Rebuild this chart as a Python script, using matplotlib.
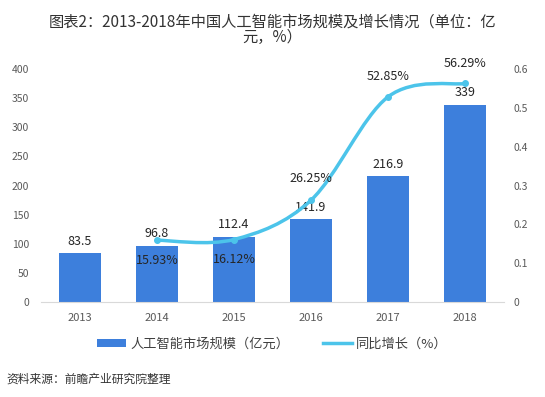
import matplotlib.pyplot as plt
import numpy as np
from matplotlib.path import Path
from matplotlib.patches import PathPatch
from matplotlib.lines import Line2D
from matplotlib.patches import Patch

plt.rcParams["font.family"] = ["Noto Sans CJK SC", "DejaVu Sans"]

# data
years = ["2013", "2014", "2015", "2016", "2017", "2018"]
market_size = [83.5, 96.8, 112.4, 141.9, 216.9, 339]
growth_years = ["2014", "2015", "2016", "2017", "2018"]
growth_rate = [0.1593, 0.1612, 0.2625, 0.5285, 0.5629]
growth_labels = ["15.93%", "16.12%", "26.25%", "52.85%", "56.29%"]

BAR_COLOR = "#3D7FDC"
LINE_COLOR = "#4CC4EA"
TICK_COLOR = "#595959"

fig = plt.figure(figsize=(5.45, 3.97), dpi=100)
ax = fig.add_axes([0.076, 0.239, 0.848, 0.587])
ax2 = ax.twinx()

x = np.arange(len(years))
ax.bar(x, market_size, width=0.545, color=BAR_COLOR, zorder=2)
for xi, v in zip(x, market_size):
    ax.text(xi, v + 9, f"{v:g}", ha="center", va="bottom", fontsize=9, color="#262626")

ax.set_xlim(-0.5, len(years) - 0.5)
ax.set_ylim(0, 400)
ax.set_yticks(range(0, 401, 50))
ax.set_xticks(x)
ax.set_xticklabels(years)
ax2.set_ylim(0, 0.6)
ax2.set_yticks([0, 0.1, 0.2, 0.3, 0.4, 0.5, 0.6])
ax2.set_yticklabels(["0", "0.1", "0.2", "0.3", "0.4", "0.5", "0.6"])

for a in (ax, ax2):
    for side in ("top", "left", "right", "bottom"):
        a.spines[side].set_visible(False)
    a.tick_params(length=0, labelsize=7.5, colors=TICK_COLOR)
ax.spines["bottom"].set_visible(True)
ax.spines["bottom"].set_color("#D9D9D9")
ax.tick_params(axis="x", pad=8, labelsize=8)
ax.tick_params(axis="y", pad=9)
ax2.tick_params(axis="y", pad=7)

# smooth growth line (bezier through the points)
gx = np.array([years.index(y) for y in growth_years], dtype=float)
gy = np.array(growth_rate)
pts = np.column_stack([gx, gy])
verts = [pts[0]]
codes = [Path.MOVETO]
t = 0.5 / 3
for i in range(len(pts) - 1):
    p0 = pts[i - 1] if i > 0 else pts[i]
    p1 = pts[i]
    p2 = pts[i + 1]
    p3 = pts[i + 2] if i + 2 < len(pts) else pts[i + 1]
    c1 = p1 + (p2 - p0) * t
    c2 = p2 - (p3 - p1) * t
    verts += [c1, c2, p2]
    codes += [Path.CURVE4] * 3
ax2.add_patch(PathPatch(Path(verts, codes), facecolor="none", edgecolor=LINE_COLOR,
                        linewidth=2.5, zorder=3))
ax2.plot(gx, gy, "o", color=LINE_COLOR, markersize=4, zorder=4)

offsets = [-0.035, -0.035, 0.04, 0.035, 0.035]
for xi, v, lab, off in zip(gx, gy, growth_labels, offsets):
    ax2.text(xi, v + off, lab, ha="center", va="top" if off < 0 else "bottom",
             fontsize=9, color="#262626", zorder=5)

fig.text(0.5, 0.945, "图表2：2013-2018年中国人工智能市场规模及增长情况（单位：亿", ha="center",
         va="center", fontsize=11, color="#333333")
fig.text(0.5, 0.905, "元，%）", ha="center", va="center", fontsize=11, color="#333333")

handles = [Patch(facecolor=BAR_COLOR), Line2D([], [], color=LINE_COLOR, linewidth=2.5)]
fig.legend(handles, ["人工智能市场规模（亿元）", "同比增长（%）"], loc="center",
           bbox_to_anchor=(0.5, 0.133), ncol=2, frameon=False, fontsize=9.5,
           handlelength=2.2, handleheight=0.6, handletextpad=0.3, columnspacing=2.6,
           labelcolor="#404040")

fig.text(0.012, 0.045, "资料来源：前瞻产业研究院整理", ha="left", va="center",
         fontsize=8.5, style="italic", color="#333333")

fig.savefig("out.png", dpi=100)
